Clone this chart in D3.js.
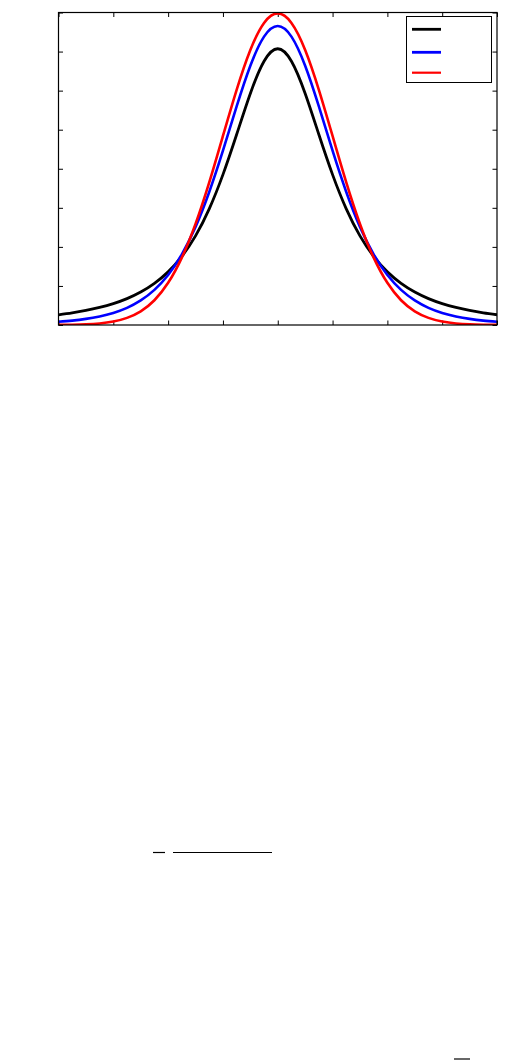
<!DOCTYPE html>
<html>
<head>
<meta charset="utf-8">
<script src="https://cdn.jsdelivr.net/npm/d3@7"></script>
<style>
  body { margin: 0; background: #fff; }
  svg { display: block; }
</style>
</head>
<body>
<div id="chart"></div>
<script>
// x positions of the samples
var xs = [-4, -3.75, -3.5, -3.25, -3, -2.75, -2.5, -2.25, -2, -1.75, -1.5, -1.25, -1, -0.75, -0.5, -0.25,
          0, 0.25, 0.5, 0.75, 1, 1.25, 1.5, 1.75, 2, 2.25, 2.5, 2.75, 3, 3.25, 3.5, 3.75, 4];

// values (right half, mirrored below)
var blackHalf = [0.3536, 0.3376, 0.2963, 0.2438, 0.1925, 0.1487, 0.1141, 0.0878, 0.0680,
                 0.0533, 0.0422, 0.0338, 0.0274, 0.0225, 0.0186, 0.0155, 0.0131];
var blueHalf  = [0.3827, 0.3691, 0.3318, 0.2797, 0.2231, 0.1703, 0.1256, 0.0904, 0.0640,
                 0.0450, 0.0315, 0.0220, 0.0155, 0.0110, 0.0078, 0.0056, 0.0041];
var redHalf   = [0.3989, 0.3867, 0.3521, 0.3011, 0.2420, 0.1826, 0.1295, 0.0863, 0.0540,
                 0.0317, 0.0175, 0.0091, 0.0044, 0.0020, 0.0009, 0.0004, 0.0001];

var xTicks = [-4, -3, -2, -1, 0, 1, 2, 3, 4];
var yTicks = [0, 0.05, 0.1, 0.15, 0.2, 0.25, 0.3, 0.35, 0.4];

function mirror(half) {
  return half.slice(1).reverse().concat(half);
}

var series = [
  { name: "black", color: "#000000", width: 2.8, values: mirror(blackHalf) },
  { name: "blue",  color: "#0000ff", width: 2.6, values: mirror(blueHalf) },
  { name: "red",   color: "#ff0000", width: 2.6, values: mirror(redHalf) }
];

var W = 505, H = 1060;
var plotLeft = 58.5, plotRight = 497, plotTop = 12.5, plotBottom = 325;

var svg = d3.select("#chart").append("svg")
    .attr("width", W)
    .attr("height", H);

var x = d3.scaleLinear().domain([-4, 4]).range([plotLeft, plotRight]);
var y = d3.scaleLinear().domain([0, 0.4]).range([plotBottom, plotTop]);

svg.append("clipPath").attr("id", "plotclip")
  .append("rect")
    .attr("x", plotLeft).attr("y", plotTop - 3)
    .attr("width", plotRight - plotLeft).attr("height", plotBottom - plotTop + 3);

// inward ticks on all four sides, no labels
var tickLen = 4.5;
svg.append("g")
    .attr("transform", "translate(0," + plotBottom + ")")
    .call(d3.axisBottom(x).tickValues(xTicks).tickSizeInner(-tickLen).tickSizeOuter(0).tickFormat(""));
svg.append("g")
    .attr("transform", "translate(0," + plotTop + ")")
    .call(d3.axisTop(x).tickValues(xTicks).tickSizeInner(-tickLen).tickSizeOuter(0).tickFormat(""));
svg.append("g")
    .attr("transform", "translate(" + plotLeft + ",0)")
    .call(d3.axisLeft(y).tickValues(yTicks).tickSizeInner(-tickLen).tickSizeOuter(0).tickFormat(""));
svg.append("g")
    .attr("transform", "translate(" + plotRight + ",0)")
    .call(d3.axisRight(y).tickValues(yTicks).tickSizeInner(-tickLen).tickSizeOuter(0).tickFormat(""));

svg.selectAll(".domain").remove();
svg.selectAll(".tick line").attr("stroke", "#000").attr("stroke-width", 1);

var line = d3.line()
    .x(function(d, i) { return x(xs[i]); })
    .y(function(d) { return y(d); })
    .curve(d3.curveNatural);

svg.append("g")
    .attr("clip-path", "url(#plotclip)")
  .selectAll("path")
  .data(series)
  .enter().append("path")
    .attr("fill", "none")
    .attr("stroke", function(d) { return d.color; })
    .attr("stroke-width", function(d) { return d.width; })
    .attr("stroke-linejoin", "round")
    .attr("d", function(d) { return line(d.values); });

// frame
svg.append("rect")
    .attr("x", plotLeft).attr("y", plotTop)
    .attr("width", plotRight - plotLeft).attr("height", plotBottom - plotTop)
    .attr("fill", "none")
    .attr("stroke", "#000")
    .attr("stroke-width", 1.2);

// legend
var legend = svg.append("g");
legend.append("rect")
    .attr("x", 406.5).attr("y", 16.5)
    .attr("width", 85).attr("height", 66)
    .attr("fill", "#fff")
    .attr("stroke", "#000")
    .attr("stroke-width", 1);
var legendY = [29.3, 52.3, 72.7];
legend.selectAll("line")
  .data(series)
  .enter().append("line")
    .attr("x1", 412).attr("x2", 441)
    .attr("y1", function(d, i) { return legendY[i]; })
    .attr("y2", function(d, i) { return legendY[i]; })
    .attr("stroke", function(d) { return d.color; })
    .attr("stroke-width", function(d, i) { return i == 2 ? 2.2 : 2.8; });

// fraction bars left over from the formulas below the chart
var bars = [[153, 165, 852.5], [173, 272, 852.5], [454, 470, 1059]];
svg.selectAll(".fbar")
  .data(bars)
  .enter().append("line")
    .attr("class", "fbar")
    .attr("x1", function(d) { return d[0]; })
    .attr("x2", function(d) { return d[1]; })
    .attr("y1", function(d) { return d[2]; })
    .attr("y2", function(d) { return d[2]; })
    .attr("stroke", "#000")
    .attr("stroke-width", 1.2);
</script>
</body>
</html>
